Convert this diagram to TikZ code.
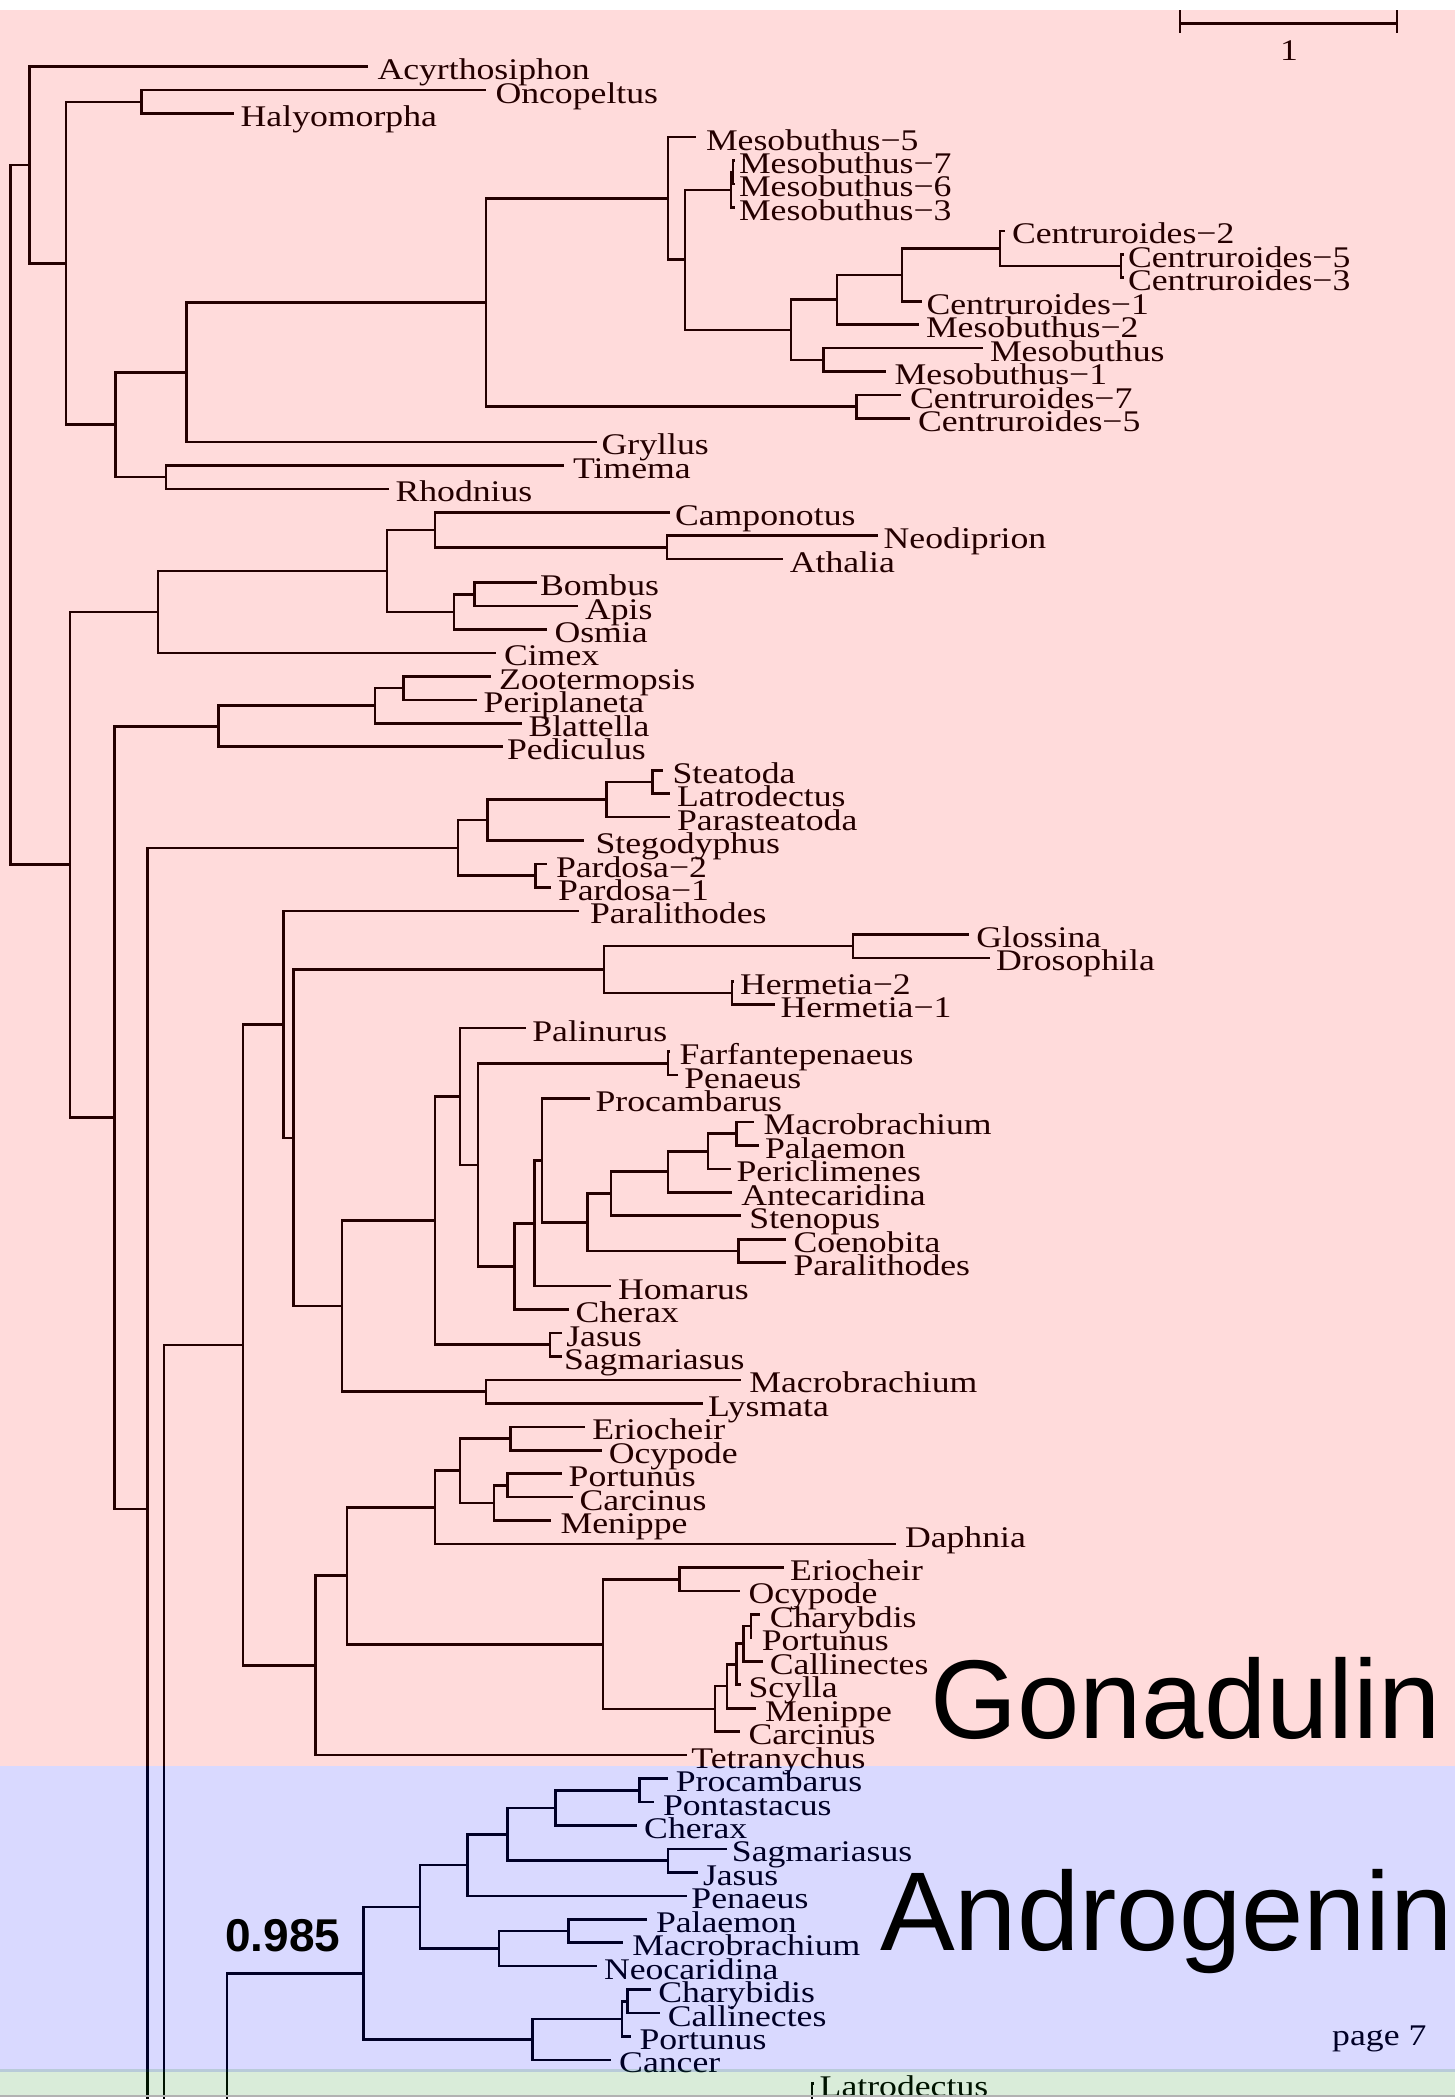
\documentclass[tikz,border=0pt]{standalone}
\usepackage{fontspec}
\setmainfont{Liberation Serif}
\newfontfamily\labf[FakeStretch=1.19]{Liberation Serif}
\newfontfamily\bigsf{Liberation Sans}
\newcommand\pyc[1]{((#1)-43.25)/23.45}
\tikzset{
  br/.style={line width=2.6pt, line join=miter},
  lab/.style={anchor=base west, inner sep=0pt, outer sep=0pt, yshift=-13pt,
    font=\labf\fontsize{30}{36}\selectfont},
}
\newcommand\lf[5]{\coordinate (#1) at (#2,#3); \node[lab] (l#1) at (#4,#3) {#5};}
\begin{document}
\begin{tikzpicture}[x=1pt,y=-23.45pt]
\useasboundingbox (0,{\pyc{0}}) rectangle (1455,{\pyc{2099}});
\fill[white] (0,{\pyc{0}}) rectangle (1455,{\pyc{2099}});
\clip (0,{\pyc{0}}) rectangle (1455,{\pyc{2099}});
% internal nodes
\coordinate (root) at (10.4,20.14);
\coordinate (A) at (29.7,5.19);
\coordinate (B) at (66,9.385);
\coordinate (OH) at (141.6,2.5);
\coordinate (C) at (115.6,16.27);
\coordinate (D) at (186.4,14.03);
\coordinate (E) at (486,11.06);
\coordinate (M) at (668,6.61);
\coordinate (N) at (685,9.23);
\coordinate (Mt) at (731,6.25);
\coordinate (Ms) at (733,5.5);
\coordinate (P) at (791,12.22);
\coordinate (R) at (837,10.94);
\coordinate (S) at (902,9.875);
\coordinate (T) at (1000,8.75);
\coordinate (U) at (1121,9.5);
\coordinate (Q) at (823.5,13.5);
\coordinate (CC) at (856.7,15.5);
\coordinate (TR) at (166,18.5);
\coordinate (F) at (69.8,35.03);
\coordinate (G) at (158,24.25);
\coordinate (Hym) at (387,22.5);
\coordinate (CNA) at (435,20.75);
\coordinate (NA) at (667,21.5);
\coordinate (BAO) at (454,24.25);
\coordinate (BA) at (474.3,23.5);
\coordinate (H) at (114.7,45.81);
\coordinate (BZ) at (218.5,29.125);
\coordinate (ZPB) at (375,28.25);
\coordinate (ZP) at (403.5,27.5);
\coordinate (I) at (147.7,62.5);
\coordinate (Spd) at (457.8,34.31);
\coordinate (SLPS) at (487.5,33.125);
\coordinate (SLP) at (606.4,32.25);
\coordinate (SL) at (652.7,31.5);
\coordinate (Par) at (535.6,35.5);
\coordinate (J) at (163.8,95);
\coordinate (L) at (243,55.51);
\coordinate (Mx) at (283.2,41.84);
\coordinate (Nx) at (293.5,46.68);
\coordinate (Dip) at (604,39.5);
\coordinate (GD) at (852.9,38.5);
\coordinate (Her) at (731.9,40.5);
\coordinate (Dec) at (342,53.85);
\coordinate (DecB) at (435,50.21);
\coordinate (PalN) at (460,44.91);
\coordinate (O) at (478,47.83);
\coordinate (FP) at (667.8,43.5);
\coordinate (Qb) at (514.4,52.16);
\coordinate (Rb) at (534.2,50.32);
\coordinate (Sb) at (541.8,47.64);
\coordinate (Tb) at (587.5,50.28);
\coordinate (Ub) at (611.1,49.06);
\coordinate (Vb) at (667.8,48.125);
\coordinate (Wb) at (707.9,47.25);
\coordinate (MP) at (736.2,46.5);
\coordinate (CPb) at (738.6,51.5);
\coordinate (JS) at (549.8,55.5);
\coordinate (ML) at (486,57.5);
\coordinate (crab) at (315.2,69.18);
\coordinate (X3) at (346.9,65.35);
\coordinate (Y3) at (435,62.44);
\coordinate (EOPCM) at (460,60.875);
\coordinate (EO) at (510.6,59.5);
\coordinate (PCM) at (494,62.25);
\coordinate (PC) at (507.3,61.5);
\coordinate (Z3) at (603,68.27);
\coordinate (EO2) at (679.6,65.5);
\coordinate (AA) at (715,71.03);
\coordinate (BB4) at (727.1,70.06);
\coordinate (CPCS) at (736.6,69.125);
\coordinate (CPC) at (743.7,68.25);
\coordinate (CP2) at (750.8,67.5);
\coordinate (K) at (227,95);
\coordinate (AR) at (363.4,82.3);
\coordinate (AR1) at (420,79.47);
\coordinate (AR2) at (467.2,77.69);
\coordinate (AR3) at (507.3,76.375);
\coordinate (PPC) at (555.5,75.25);
\coordinate (PP) at (639.5,74.5);
\coordinate (SJ) at (667.8,77.5);
\coordinate (PMN) at (498.8,81.25);
\coordinate (PM) at (568.7,80.5);
\coordinate (crab2) at (532.3,85.125);
\coordinate (CCP) at (622,84.25);
\coordinate (CC2) at (627.7,83.5);
\coordinate (LatN) at (812,92);
% leaves
\lf{t1}{368}{1}{377.5}{Acyrthosiphon}
\lf{t2}{486}{2}{495.5}{Oncopeltus}
\lf{t3}{233.6}{3}{240.7}{Halyomorpha}
\lf{t4}{696}{4}{706}{Mesobuthus−5}
\lf{t5}{735}{5}{739}{Mesobuthus−7}
\lf{t6}{735}{6}{739}{Mesobuthus−6}
\lf{t7}{735}{7}{739}{Mesobuthus−3}
\lf{t8}{1005}{8}{1012}{Centruroides−2}
\lf{t9}{1124}{9}{1128}{Centruroides−5}
\lf{t10}{1124}{10}{1128}{Centruroides−3}
\lf{t11}{922}{11}{926.5}{Centruroides−1}
\lf{t12}{919}{12}{926}{Mesobuthus−2}
\lf{t13}{983}{13}{990}{Mesobuthus}
\lf{t14}{886}{14}{894.7}{Mesobuthus−1}
\lf{t15}{901}{15}{910}{Centruroides−7}
\lf{t16}{910}{16}{918}{Centruroides−5}
\lf{t17}{597}{17}{601.7}{Gryllus}
\lf{t18}{564}{18}{573}{Timema}
\lf{t19}{389}{19}{395.5}{Rhodnius}
\lf{t20}{670}{20}{675}{Camponotus}
\lf{t21}{878}{21}{883.7}{Neodiprion}
\lf{t22}{783}{22}{789.8}{Athalia}
\lf{t23}{537}{23}{540}{Bombus}
\lf{t24}{578}{24}{585}{Apis}
\lf{t25}{547.4}{25}{554.5}{Osmia}
\lf{t26}{495.5}{26}{504}{Cimex}
\lf{t27}{490.8}{27}{499}{Zootermopsis}
\lf{t28}{476.6}{28}{483.7}{Periplaneta}
\lf{t29}{521.5}{29}{528.5}{Blattella}
\lf{t30}{502.6}{30}{507}{Pediculus}
\lf{t31}{663}{31}{672.5}{Steatoda}
\lf{t32}{670}{32}{677}{Latrodectus}
\lf{t33}{670}{33}{677}{Parasteatoda}
\lf{t34}{583.8}{34}{595.6}{Stegodyphus}
\lf{t35}{547.4}{35}{556}{Pardosa−2}
\lf{t36}{551}{36}{558}{Pardosa−1}
\lf{t37}{579}{37}{590}{Paralithodes}
\lf{t38}{969.2}{38}{976.3}{Glossina}
\lf{t39}{989.6}{39}{996.2}{Drosophila}
\lf{t40}{734}{40}{740}{Hermetia−2}
\lf{t41}{774.6}{41}{780.7}{Hermetia−1}
\lf{t42}{526}{42}{532.3}{Palinurus}
\lf{t43}{670}{43}{679.6}{Farfantepenaeus}
\lf{t44}{678}{44}{684.3}{Penaeus}
\lf{t45}{590}{45}{595.6}{Procambarus}
\lf{t46}{754.2}{46}{763.7}{Macrobrachium}
\lf{t47}{759}{47}{765}{Palaemon}
\lf{t48}{731}{48}{736.6}{Periclimenes}
\lf{t49}{731.5}{49}{741.4}{Antecaridina}
\lf{t50}{741.4}{50}{749.4}{Stenopus}
\lf{t51}{785.5}{51}{793.6}{Coenobita}
\lf{t52}{785.5}{52}{793.6}{Paralithodes}
\lf{t53}{611}{53}{618}{Homarus}
\lf{t54}{568.7}{54}{575.7}{Cherax}
\lf{t55}{561.6}{55}{566.3}{Jasus}
\lf{t56}{561.6}{56}{564}{Sagmariasus}
\lf{t57}{741.4}{57}{749.4}{Macrobrachium}
\lf{t58}{703}{58}{708}{Lysmata}
\lf{t59}{585.2}{59}{592.3}{Eriocheir}
\lf{t60}{601.7}{60}{608.8}{Ocypode}
\lf{t61}{561.6}{61}{568.7}{Portunus}
\lf{t62}{573.4}{62}{579.5}{Carcinus}
\lf{t63}{551.2}{63}{560.6}{Menippe}
\coordinate (t64) at (895.6,64); \node[lab,yshift=10pt] (lt64) at (905,64) {Daphnia};
\lf{t65}{784}{65}{790.2}{Eriocheir}
\lf{t66}{740}{66}{748.5}{Ocypode}
\lf{t67}{760.3}{67}{769.8}{Charybdis}
\lf{t68}{752}{68}{761.8}{Portunus}
\lf{t69}{762.7}{69}{769.8}{Callinectes}
\lf{t70}{741}{70}{748.5}{Scylla}
\lf{t71}{755.6}{71}{765}{Menippe}
\lf{t72}{740}{72}{748.5}{Carcinus}
\lf{t73}{686.6}{73}{691.4}{Tetranychus}
\lf{t74}{667.8}{74}{675.8}{Procambarus}
\lf{t75}{653.6}{75}{663}{Pontastacus}
\lf{t76}{637}{76}{644.2}{Cherax}
\lf{t77}{727}{77}{731.9}{Sagmariasus}
\lf{t78}{697.5}{78}{703}{Jasus}
\lf{t79}{686.6}{79}{691.4}{Penaeus}
\lf{t80}{646.5}{80}{656}{Palaemon}
\lf{t81}{623}{81}{632.4}{Macrobrachium}
\lf{t82}{597}{82}{604}{Neocaridina}
\lf{t83}{651.3}{83}{658.3}{Charybidis}
\lf{t84}{659.7}{84}{667.8}{Callinectes}
\lf{t85}{631.4}{85}{639.5}{Portunus}
\lf{t86}{611}{86}{619.2}{Cancer}
\lf{t87}{814}{87}{819.7}{Latrodectus}
% branches
\foreach \p/\c in {root/A, root/F, A/t1, A/B, B/OH, B/C, OH/t2, OH/t3, C/D, C/TR, D/E, D/t17, E/M, E/CC, M/t4, M/N, N/Mt, N/P, Mt/Ms, Mt/t7, Ms/t5, Ms/t6, P/R, P/Q, R/S, R/t12, S/T, S/t11, T/t8, T/U, U/t9, U/t10, Q/t13, Q/t14, CC/t15, CC/t16, TR/t18, TR/t19,
F/G, F/H, G/Hym, G/t26, Hym/CNA, Hym/BAO, CNA/t20, CNA/NA, NA/t21, NA/t22, BAO/BA, BAO/t25, BA/t23, BA/t24,
H/BZ, H/I, BZ/ZPB, BZ/t30, ZPB/ZP, ZPB/t29, ZP/t27, ZP/t28,
I/Spd, I/J, Spd/SLPS, Spd/Par, SLPS/SLP, SLPS/t34, SLP/SL, SLP/t33, SL/t31, SL/t32, Par/t35, Par/t36,
J/L, L/Mx, L/crab, Mx/t37, Mx/Nx, Nx/Dip, Nx/Dec, Dip/GD, Dip/Her, GD/t38, GD/t39, Her/t40, Her/t41,
Dec/DecB, Dec/ML, DecB/PalN, DecB/JS, PalN/t42, PalN/O, O/FP, O/Qb, FP/t43, FP/t44, Qb/Rb, Qb/t54, Rb/Sb, Rb/t53, Sb/t45, Sb/Tb, Tb/Ub, Tb/CPb, Ub/Vb, Ub/t50, Vb/Wb, Vb/t49, Wb/MP, Wb/t48, MP/t46, MP/t47, CPb/t51, CPb/t52, JS/t55, JS/t56, ML/t57, ML/t58,
crab/X3, crab/t73, X3/Y3, X3/Z3, Y3/EOPCM, Y3/t64, EOPCM/EO, EOPCM/PCM, EO/t59, EO/t60, PCM/PC, PCM/t63, PC/t61, PC/t62, Z3/EO2, Z3/AA, EO2/t65, EO2/t66, AA/BB4, AA/t72, BB4/CPCS, BB4/t71, CPCS/CPC, CPCS/t70, CPC/CP2, CPC/t69, CP2/t67, CP2/t68,
K/AR, AR/AR1, AR/crab2, AR1/AR2, AR1/PMN, AR2/AR3, AR2/t79, AR3/PPC, AR3/SJ, PPC/PP, PPC/t76, PP/t74, PP/t75, SJ/t77, SJ/t78, PMN/PM, PMN/t82, PM/t80, PM/t81, crab2/CCP, crab2/t86, CCP/CC2, CCP/t85, CC2/t83, CC2/t84,
LatN/t87}
  \draw[br] (\p) |- (\c);
% scale bar
\coordinate (sbL) at (1180,{\pyc{23.3}});
\coordinate (sbR) at (1397,{\pyc{23.3}});
\draw[br] (sbL) -- (sbR);
\draw[br] (1180,{\pyc{10}}) -- (1180,{\pyc{33}});
\draw[br] (1397,{\pyc{10}}) -- (1397,{\pyc{33}});
\node[anchor=base, inner sep=0pt, font=\labf\fontsize{30}{36}\selectfont] (sbl) at (1289,{\pyc{60}}) {1};
\node[anchor=base west, inner sep=0pt, font=\labf\fontsize{30}{36}\selectfont] (pg) at (1332,{\pyc{2045}}) {page 7};
% translucent section overlays
\fill[red, fill opacity=0.14] (0,{\pyc{10}}) rectangle (1455,{\pyc{1766}});
\fill[blue, fill opacity=0.15] (0,{\pyc{1766}}) rectangle (1455,{\pyc{2072}});
\fill[green!50!black, fill opacity=0.15] (0,{\pyc{2069}}) rectangle (1455,{\pyc{2095}});
\draw[gray!60, line width=2pt] (0,{\pyc{2096}}) -- (1455,{\pyc{2096}});
% big labels
\node[anchor=base west, inner sep=0pt, font=\bigsf\fontsize{112}{120}\selectfont] (gon) at (930,{\pyc{1738}}) {Gonadulin};
\node[anchor=base west, inner sep=0pt, font=\bigsf\fontsize{112}{120}\selectfont] (andr) at (880,{\pyc{1950}}) {Androgenin};
\node[anchor=base west, inner sep=0pt, font=\bigsf\bfseries\fontsize{46}{50}\selectfont] (bs) at (225,{\pyc{1951}}) {0.985};
\end{tikzpicture}
\end{document}
